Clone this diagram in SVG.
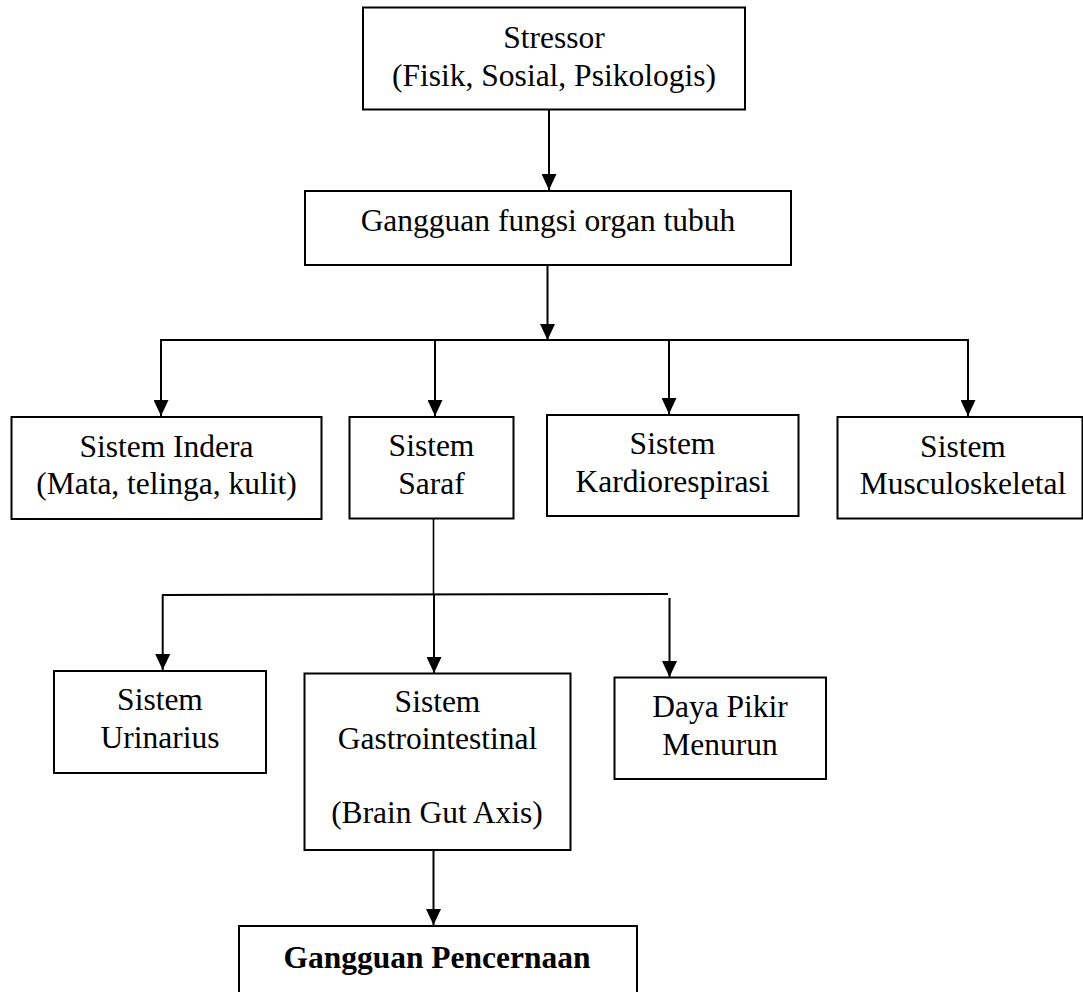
<svg xmlns="http://www.w3.org/2000/svg" width="1083" height="992" viewBox="0 0 1083 992">
<style>
.box{fill:#fff;stroke:#000;stroke-width:2}
.t{font-family:"Liberation Serif","Times New Roman",serif;font-size:31.5px;fill:#000;text-anchor:middle}
.b{font-weight:bold}
.c{fill:none;stroke:#000;stroke-width:2}
.thin{stroke-width:1.6}
</style>
<defs>
<marker id="ah" viewBox="0 0 16 15" refX="16" refY="7.5" markerWidth="16" markerHeight="15" markerUnits="userSpaceOnUse" orient="auto">
<path d="M0,0 L16,7.5 L0,15 z" fill="#000"/>
</marker>
</defs>
<rect width="1083" height="992" fill="#fff"/>
<g id="connectors">
<line class="c" x1="549" y1="110" x2="549" y2="190" marker-end="url(#ah)"/>
<line class="c" x1="547.5" y1="266" x2="547.5" y2="340" marker-end="url(#ah)"/>
<line class="c" x1="160" y1="340" x2="969" y2="340"/>
<line class="c" x1="161" y1="340" x2="161" y2="416" marker-end="url(#ah)"/>
<line class="c" x1="435" y1="340" x2="435" y2="416" marker-end="url(#ah)"/>
<line class="c" x1="669" y1="340" x2="669" y2="414" marker-end="url(#ah)"/>
<line class="c" x1="968" y1="339" x2="968" y2="416" marker-end="url(#ah)"/>
<line class="c thin" x1="433.5" y1="518" x2="433.5" y2="595"/>
<line class="c" x1="162" y1="595" x2="668" y2="594"/>
<line class="c" x1="162.7" y1="595" x2="162.7" y2="670" marker-end="url(#ah)"/>
<line class="c" x1="434" y1="595" x2="434" y2="673" marker-end="url(#ah)"/>
<line class="c" x1="669.5" y1="598" x2="669.5" y2="677" marker-end="url(#ah)"/>
<line class="c" x1="433.5" y1="850" x2="433.5" y2="925" marker-end="url(#ah)"/>
</g>
<g id="stressor">
<rect class="box" x="363" y="7.5" width="382" height="102"/>
<text class="t" x="554" y="48">Stressor</text>
<text class="t" x="554" y="86">(Fisik, Sosial, Psikologis)</text>
</g>
<g id="gangguan-fungsi">
<rect class="box" x="305" y="191" width="486" height="74"/>
<text class="t" x="548" y="230.5">Gangguan fungsi organ tubuh</text>
</g>
<g id="sistem-indera">
<rect class="box" x="11.5" y="417" width="310" height="102"/>
<text class="t" x="166.5" y="456.5">Sistem Indera</text>
<text class="t" x="166.5" y="494">(Mata, telinga, kulit)</text>
</g>
<g id="sistem-saraf">
<rect class="box" x="349.5" y="417" width="164" height="101.5"/>
<text class="t" x="431.5" y="456">Sistem</text>
<text class="t" x="431.5" y="494">Saraf</text>
</g>
<g id="sistem-kardio">
<rect class="box" x="547" y="415" width="251.5" height="101"/>
<text class="t" x="672.5" y="454">Sistem</text>
<text class="t" x="672.5" y="491.5">Kardiorespirasi</text>
</g>
<g id="sistem-muscul">
<rect class="box" x="837.5" y="417" width="245" height="101.5"/>
<text class="t" x="963" y="456.5">Sistem</text>
<text class="t" x="963" y="494">Musculoskeletal</text>
</g>
<g id="sistem-urinarius">
<rect class="box" x="54" y="671" width="212" height="102"/>
<text class="t" x="160" y="710">Sistem</text>
<text class="t" x="160" y="748">Urinarius</text>
</g>
<g id="sistem-gastro">
<rect class="box" x="304.5" y="673.5" width="266" height="176.5"/>
<text class="t" x="437.5" y="711.5">Sistem</text>
<text class="t" x="437.5" y="748.5">Gastrointestinal</text>
<text class="t" x="437" y="823">(Brain Gut Axis)</text>
</g>
<g id="daya-pikir">
<rect class="box" x="614.5" y="677.5" width="211.5" height="101.5"/>
<text class="t" x="720" y="716.5">Daya Pikir</text>
<text class="t" x="720" y="755">Menurun</text>
</g>
<g id="gangguan-pencernaan">
<rect class="box" x="239" y="926" width="398" height="80"/>
<text class="t b" x="437" y="968">Gangguan Pencernaan</text>
</g>
</svg>
